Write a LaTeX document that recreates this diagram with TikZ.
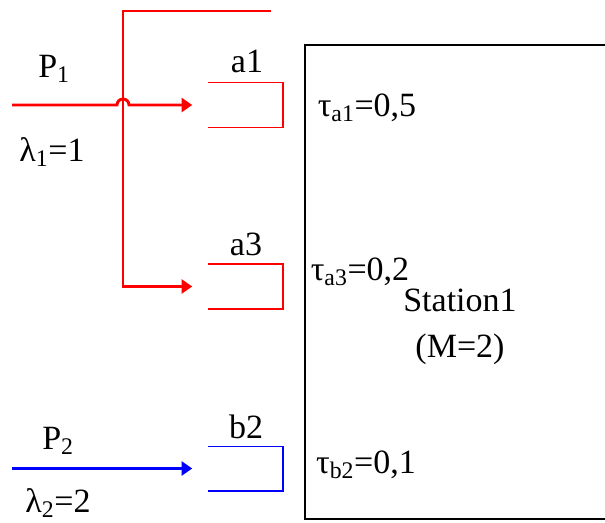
\documentclass[tikz,border=0pt]{standalone}
\usepackage{fontspec}
\setmainfont{Liberation Serif}
\definecolor{flowred}{RGB}{255,0,0}
\definecolor{flowblue}{RGB}{0,0,255}
\usetikzlibrary{arrows.meta,positioning}

\begin{document}
\begin{tikzpicture}[x=0.75pt,y=-0.75pt,
  txt/.style={font=\fontsize{25.5}{35}\selectfont,inner sep=0pt},
  slot/.style={rectangle,inner sep=0pt,minimum width=55.5pt,minimum height=33pt},
  flow/.style={line width=2.2pt,-{Triangle[length=8pt,width=10.5pt]},shorten >=12pt},
  rim/.style={line width=1.1pt}]
  \useasboundingbox (0,0) rectangle (605,523);
  \clip (0,0) rectangle (605,523);
  % station box (runs off the right edge)
  \draw[line width=1.5pt] (615,45) -- (305,45) -- (305,519) -- (615,519);
  % queues
  \node[slot] (a1) at (245.5,105) {};
  \node[slot] (a3) at (245.5,286.5) {};
  \node[slot] (b2) at (245.5,468.5) {};
  \draw[rim,flowred] (a1.north west) -- (a1.north east) -- (a1.south east) -- (a1.south west);
  \draw[rim,flowred] (a3.north west) -- (a3.north east) -- (a3.south east) -- (a3.south west);
  \draw[rim,flowblue] (b2.north west) -- (b2.north east) -- (b2.south east) -- (b2.south west);
  % routes
  \coordinate (top) at (271,11);
  \coordinate (turn) at (123,11);
  \coordinate (p1) at (12,105);
  \coordinate (hop) at (117,105);
  \coordinate (p2) at (12,468.5);
  \draw[flow,flowred] (top) -- (turn) |- (a3.west);
  \draw[flow,flowred] (p1) -- (hop) arc[start angle=180,end angle=0,radius=4.5pt] -- (a1.west);
  \draw[flow,flowblue] (p2) -- (b2.west);
  % labels
  \node[txt] (lp1) at (54,69) {P\textsubscript{1}};
  \node[txt] (lam1) at (52,152) {λ\textsubscript{1}=1};
  \node[txt] (lp2) at (58,441) {P\textsubscript{2}};
  \node[txt] (lam2) at (58,503) {λ\textsubscript{2}=2};
  \node[txt] (la1) at (247,61) {a1};
  \node[txt] (la3) at (246,244) {a3};
  \node[txt] (lb2) at (246,427) {b2};
  \node[txt] (ta1) at (367,108) {τ\textsubscript{a1}=0,5};
  \node[txt] (ta3) at (360,272) {τ\textsubscript{a3}=0,2};
  \node[txt] (tb2) at (366,465) {τ\textsubscript{b2}=0,1};
  \node[txt,align=center] (st) at (460,327) {Station1\\(M=2)};
\end{tikzpicture}
\end{document}
